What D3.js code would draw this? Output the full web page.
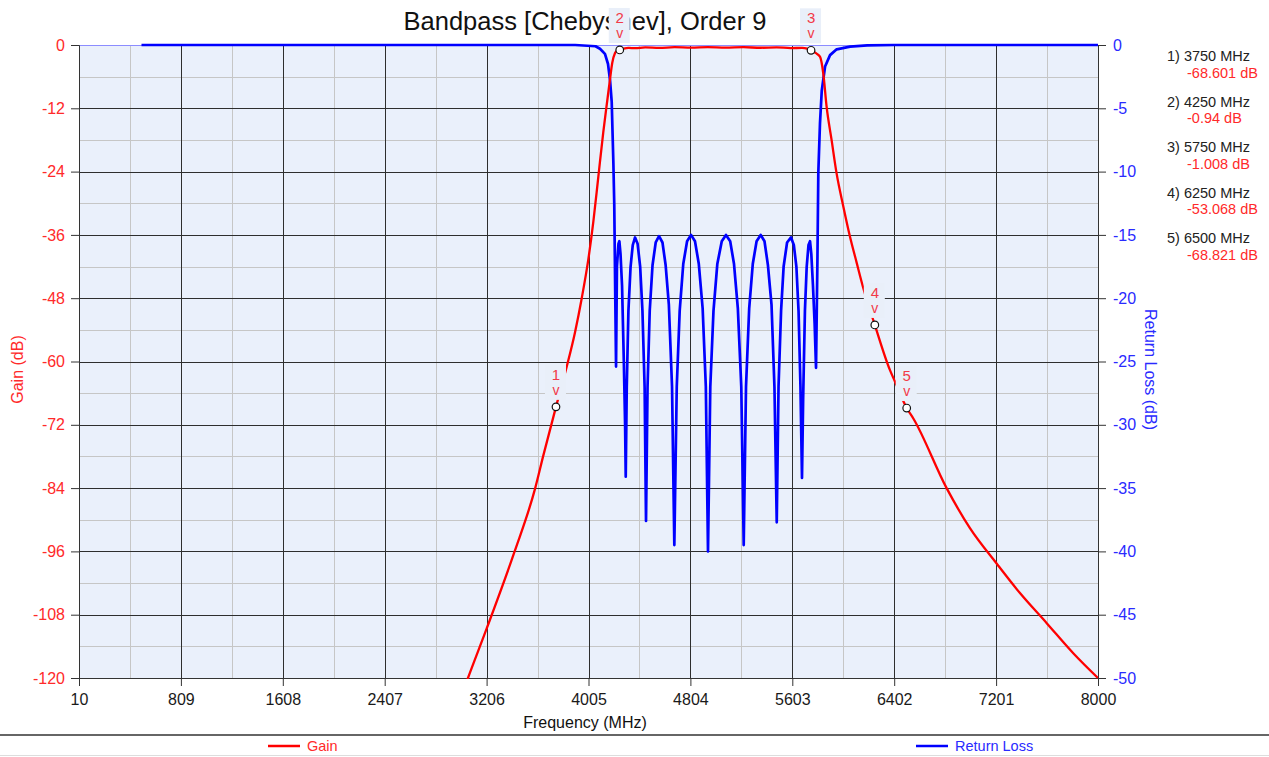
<!DOCTYPE html>
<html><head><meta charset="utf-8">
<script src="https://cdn.jsdelivr.net/npm/d3@7"></script>
<style>
html,body{margin:0;padding:0;background:#fff;}
svg text{font-family:"Liberation Sans",Arial,sans-serif;}
</style></head>
<body>
<svg id="chart" width="1269" height="757"></svg>
<script>
// ---------- data ----------
const xTicks = [10, 809, 1608, 2407, 3206, 4005, 4804, 5603, 6402, 7201, 8000];
const gainTicks = [0, -12, -24, -36, -48, -60, -72, -84, -96, -108, -120];
const rlTicks = [0, -5, -10, -15, -20, -25, -30, -35, -40, -45, -50];

const gainFreq = [3000, 3060, 3207, 3423, 3585, 3651, 3750, 3834, 3899, 3952, 4004, 4043, 4082, 4121, 4155, 4173, 4191, 4213, 4230, 4250, 4280, 4320, 4370, 4450, 4560, 4680, 4810, 4940, 5080, 5220, 5355, 5480, 5590, 5680, 5720, 5750, 5785, 5820, 5846, 5872, 5911, 5950, 6003, 6055, 6108, 6160, 6250, 6368, 6408, 6500, 6552, 6813, 6996, 7205, 7388, 7598, 7806, 8000];
const gainDb = [-124, -120, -110.6, -96.2, -84.2, -77.8, -68.601, -61, -54.5, -48, -40.6, -33.5, -25, -16.5, -10, -6.6, -3.4, -1.5, -1.05, -0.94, -0.7, -0.55, -0.6, -0.45, -0.55, -0.42, -0.5, -0.4, -0.5, -0.42, -0.52, -0.45, -0.58, -0.55, -0.7, -1.008, -1.5, -2.2, -5.4, -11.7, -18, -24.3, -30.6, -36.3, -41.3, -46.1, -53.068, -61.6, -63.8, -68.821, -70.8, -84, -91.6, -98.3, -103.9, -109.6, -115.3, -120];

const rlFreq = [500, 3900, 4060, 4095, 4134, 4158, 4174, 4187, 4200, 4207, 4215, 4221, 4228, 4240, 4247, 4256, 4268, 4282, 4292, 4297, 4305, 4318, 4335, 4352, 4370, 4390, 4410, 4428, 4445, 4456, 4468, 4485, 4507, 4532, 4558, 4585, 4610, 4635, 4660, 4678, 4697, 4720, 4748, 4778, 4809, 4840, 4870, 4900, 4925, 4942, 4960, 4985, 5015, 5050, 5083, 5116, 5146, 5176, 5203, 5222, 5240, 5265, 5293, 5323, 5355, 5385, 5412, 5440, 5463, 5481, 5495, 5515, 5535, 5562, 5593, 5615, 5635, 5652, 5667, 5679, 5688, 5702, 5716, 5730, 5742, 5752, 5765, 5778, 5789, 5800, 5807, 5820, 5834, 5860, 5899, 5951, 6056, 6190, 6400, 8000];
const rlDb = [0, 0, -0.1, -0.3, -0.7, -1.5, -2.8, -4.5, -9.3, -12.6, -20, -25.4, -17.5, -15.7, -15.5, -16.5, -19, -25, -30, -34.1, -27, -21, -17.5, -15.8, -15.2, -15.7, -17.5, -21, -27, -37.6, -27, -21, -17.4, -15.6, -15.1, -15.6, -17.4, -20.5, -27, -39.5, -27, -21, -17.3, -15.5, -15, -15.5, -17.3, -20.8, -27, -40, -27, -21, -17.3, -15.5, -15, -15.5, -17.3, -20.8, -27, -39.5, -27, -20.8, -17.3, -15.5, -15, -15.5, -17.4, -20.5, -27, -37.7, -27, -21, -17.5, -15.6, -15.2, -15.8, -17.5, -21, -27, -34.2, -28, -21, -17.5, -15.8, -15.5, -16.5, -19, -22, -25.5, -17, -10.1, -6.2, -3.6, -1.7, -0.8, -0.34, -0.13, -0.03, 0, 0];

const markerIds = ["1", "2", "3", "4", "5"];
const markerFreq = [3750, 4250, 5750, 6250, 6500];
const markerGain = [-68.601, -0.94, -1.008, -53.068, -68.821];
const markerGainText = ["-68.601 dB", "-0.94 dB", "-1.008 dB", "-53.068 dB", "-68.821 dB"];

const titleText = "Bandpass [Chebyshev], Order 9";
const seriesNames = ["Gain", "Return Loss"];

// ---------- layout ----------
const svg = d3.select("#chart");
const L = 79, R = 1098, T = 45, B = 678;
const x = d3.scaleLinear().domain([10, 8000]).range([L, R]);
const yG = d3.scaleLinear().domain([-120, 0]).range([B, T]);
const yR = d3.scaleLinear().domain([-50, 0]).range([B, T]);
const RED = "#ff0000", BLUE = "#0000ff";
const LABEL_RED = "#f23a48";

// plot background
svg.append("rect").attr("x", L).attr("y", T).attr("width", R - L).attr("height", B - T).attr("fill", "#eaf0fb");

// minor grid
const xMinor = d3.pairs(xTicks).map(p => (p[0] + p[1]) / 2);
const yMinor = d3.pairs(gainTicks).map(p => (p[0] + p[1]) / 2);
const grid = svg.append("g").attr("shape-rendering", "crispEdges");
grid.selectAll(".vxm").data(xMinor).join("line")
  .attr("x1", d => Math.round(x(d)) + 0.5).attr("x2", d => Math.round(x(d)) + 0.5)
  .attr("y1", T).attr("y2", B).attr("stroke", "#c6c6c6").attr("stroke-width", 1);
grid.selectAll(".hym").data(yMinor).join("line")
  .attr("y1", d => Math.round(yG(d)) + 0.5).attr("y2", d => Math.round(yG(d)) + 0.5)
  .attr("x1", L).attr("x2", R).attr("stroke", "#c6c6c6").attr("stroke-width", 1);
// major grid
grid.selectAll(".vx").data(xTicks.slice(1, -1)).join("line")
  .attr("x1", d => Math.round(x(d)) + 0.5).attr("x2", d => Math.round(x(d)) + 0.5)
  .attr("y1", T).attr("y2", B).attr("stroke", "#2e2e2e").attr("stroke-width", 1);
grid.selectAll(".hy").data(gainTicks.slice(1, -1)).join("line")
  .attr("y1", d => Math.round(yG(d)) + 0.5).attr("y2", d => Math.round(yG(d)) + 0.5)
  .attr("x1", L).attr("x2", R).attr("stroke", "#2e2e2e").attr("stroke-width", 1);

// top border (light blue)
svg.append("line").attr("x1", L).attr("x2", R).attr("y1", T + 0.5).attr("y2", T + 0.5)
  .attr("stroke", "#8c8cff").attr("stroke-width", 1);

// axes
const fmt = d => String(d);
const axL = svg.append("g").attr("transform", `translate(${L},0)`)
  .call(d3.axisLeft(yG).tickValues(gainTicks).tickSize(8).tickPadding(6).tickFormat(fmt));
axL.select(".domain").attr("stroke", "#333");
axL.selectAll(".tick line").attr("stroke", "#333");
axL.selectAll("text").attr("fill", "#ff2a2a").attr("font-size", 16).attr("font-family", "Liberation Sans, Arial");

const axR = svg.append("g").attr("transform", `translate(${R},0)`)
  .call(d3.axisRight(yR).tickValues(rlTicks).tickSize(8).tickPadding(7).tickFormat(fmt));
axR.select(".domain").attr("stroke", "#333");
axR.selectAll(".tick line").attr("stroke", "#333");
axR.selectAll("text").attr("fill", "#2a2aff").attr("font-size", 16).attr("font-family", "Liberation Sans, Arial");

const axB = svg.append("g").attr("transform", `translate(0,${B})`)
  .call(d3.axisBottom(x).tickValues(xTicks).tickSize(8).tickPadding(8).tickFormat(fmt));
axB.select(".domain").attr("stroke", "#333");
axB.selectAll(".tick line").attr("stroke", "#333");
axB.selectAll("text").attr("fill", "#1a1a1a").attr("font-size", 16).attr("font-family", "Liberation Sans, Arial");

// clip
svg.append("clipPath").attr("id", "plotclip").append("rect")
  .attr("x", L).attr("y", T - 2).attr("width", R - L).attr("height", B - T + 3);

// series
const gainData = gainFreq.map((f, i) => [f, gainDb[i]]);
const rlData = rlFreq.map((f, i) => [f, rlDb[i]]);
const plot = svg.append("g").attr("clip-path", "url(#plotclip)");
plot.append("path").datum(rlData)
  .attr("d", d3.line().x(d => x(d[0])).y(d => yR(d[1])))
  .attr("fill", "none").attr("stroke", BLUE).attr("stroke-width", 2.7).attr("stroke-linejoin", "round");
plot.append("path").datum(gainData)
  .attr("d", d3.line().curve(d3.curveMonotoneX).x(d => x(d[0])).y(d => yG(d[1])))
  .attr("fill", "none").attr("stroke", RED).attr("stroke-width", 2.3);

// title
svg.append("text").attr("x", 585).attr("y", 30).attr("text-anchor", "middle")
  .attr("font-size", 25.5).attr("fill", "#111").text(titleText);

// markers
const mk = svg.append("g");
markerFreq.forEach((f, i) => {
  const cx = x(f), cy = yG(markerGain[i]);
  mk.append("rect").attr("x", cx - 11).attr("y", cy - 42).attr("width", 21).attr("height", 35)
    .attr("fill", "#e9eff9");
  mk.append("text").attr("x", cx).attr("y", cy - 27).attr("text-anchor", "middle")
    .attr("font-size", 15).attr("fill", LABEL_RED).text(markerIds[i]);
  mk.append("text").attr("x", cx).attr("y", cy - 12).attr("text-anchor", "middle")
    .attr("font-size", 14).attr("fill", LABEL_RED).text("v");
  mk.append("circle").attr("cx", cx).attr("cy", cy).attr("r", 3.8)
    .attr("fill", "#fff").attr("stroke", "#111").attr("stroke-width", 1.2);
});

// marker readout list
const ml = svg.append("g");
markerFreq.forEach((f, i) => {
  const y0 = 61 + i * 45.5;
  ml.append("text").attr("x", 1167).attr("y", y0).attr("font-size", 14.5).attr("fill", "#222")
    .text(`${markerIds[i]}) ${f} MHz`);
  ml.append("text").attr("x", 1187).attr("y", y0 + 16.5).attr("font-size", 14.5).attr("fill", "#ff2a2a")
    .text(markerGainText[i]);
});

// axis titles
svg.append("text").attr("transform", `translate(23,${(T + B) / 2 + 8}) rotate(-90)`)
  .attr("text-anchor", "middle").attr("font-size", 16).attr("fill", "#ff2a2a").text("Gain (dB)");
svg.append("text").attr("transform", `translate(1145,${(T + B) / 2 + 8}) rotate(90)`)
  .attr("text-anchor", "middle").attr("font-size", 16).attr("fill", "#2a2aff").text("Return Loss (dB)");
svg.append("text").attr("x", 585).attr("y", 728).attr("text-anchor", "middle")
  .attr("font-size", 16).attr("fill", "#111").text("Frequency (MHz)");

// legend area
svg.append("line").attr("x1", 0).attr("x2", 1269).attr("y1", 735).attr("y2", 735)
  .attr("stroke", "#666").attr("stroke-width", 2);
svg.append("line").attr("x1", 0).attr("x2", 1269).attr("y1", 755.5).attr("y2", 755.5)
  .attr("stroke", "#ddd").attr("stroke-width", 1);
const legX = [268, 916];
const legColors = [RED, BLUE];
const legTextColors = ["#ff2a2a", "#2a2aff"];
seriesNames.forEach((n, i) => {
  svg.append("line").attr("x1", legX[i]).attr("x2", legX[i] + 32).attr("y1", 746).attr("y2", 746)
    .attr("stroke", legColors[i]).attr("stroke-width", 2.5);
  svg.append("text").attr("x", legX[i] + 39).attr("y", 751).attr("font-size", 14.5)
    .attr("fill", legTextColors[i]).text(n);
});
</script>
</body></html>
